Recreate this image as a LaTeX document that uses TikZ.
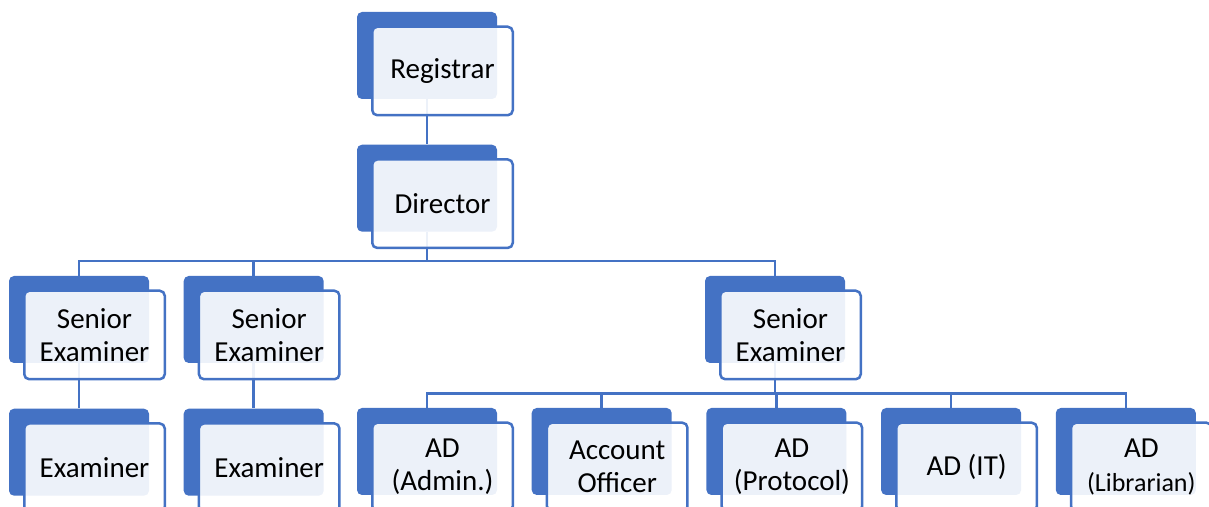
\documentclass[tikz,border=0pt]{standalone}
\usepackage{fontspec}
\setmainfont{Carlito}
\usetikzlibrary{positioning}
\definecolor{orgblue}{HTML}{4472C4}

\begin{document}
\begin{tikzpicture}[
    node distance=0.9cm and 0.68cm,
    back/.style={fill=orgblue, rounded corners=0.1cm, minimum width=2.8cm, minimum height=1.74cm, inner sep=0pt},
    front/.style={draw=orgblue, line width=0.05cm, fill=white, fill opacity=0.9, text opacity=1,
        rounded corners=0.1cm, minimum width=2.81cm, minimum height=1.77cm, inner sep=0pt,
        align=center, font=\fontsize{16.5}{18.8}\selectfont},
    link/.style={draw=orgblue, line width=0.05cm}
]
\useasboundingbox (0,0) rectangle (24.18,-10.14);

    % dark boxes
    \node[back] (reg) at (8.54,-1.11) {};
    \node[back, below=of reg] (dir) {};
    \node[back] (se1) at (1.58,-6.39) {};
    \node[back, right=of se1] (se2) {};
    \node[back] (se3) at (15.5,-6.39) {};
    \node[back, below=of se1] (ex1) {};
    \node[back, below=of se2] (ex2) {};
    \node[back] (adm) at (8.54,-9.03) {};
    \node[back, right=of adm] (acc) {};
    \node[back, right=of acc] (pro) {};
    \node[back, right=of pro] (it) {};
    \node[back, right=of it] (lib) {};

    % connectors
    \coordinate[below=0.58cm of dir.south] (split1);
    \coordinate[below=0.6cm of se3.south] (split2);
    \draw[link] (reg) -- (dir);
    \draw[link] (dir) -- (split1) -| (se1);
    \draw[link] (split1) -| (se2);
    \draw[link] (split1) -| (se3);
    \draw[link] (se1) -- (ex1);
    \draw[link] (se2) -- (ex2);
    \draw[link] (se3) -- (split2) -| (adm);
    \draw[link] (split2) -| (acc);
    \draw[link] (split2) -| (pro);
    \draw[link] (split2) -| (it);
    \draw[link] (split2) -| (lib);

    % light boxes with text
    \node[front] (reg-f) at ([shift={(0.31,-0.31)}]reg) {Registrar};
    \node[front] (dir-f) at ([shift={(0.31,-0.31)}]dir) {Director};
    \node[front] (se1-f) at ([shift={(0.31,-0.31)}]se1) {Senior\\Examiner};
    \node[front] (se2-f) at ([shift={(0.31,-0.31)}]se2) {Senior\\Examiner};
    \node[front] (se3-f) at ([shift={(0.31,-0.31)}]se3) {Senior\\Examiner};
    \node[front] (ex1-f) at ([shift={(0.31,-0.31)}]ex1) {Examiner};
    \node[front] (ex2-f) at ([shift={(0.31,-0.31)}]ex2) {Examiner};
    \node[front] (adm-f) at ([shift={(0.31,-0.31)}]adm) {AD\\(Admin.)};
    \node[front] (acc-f) at ([shift={(0.31,-0.31)}]acc) {Account\\Officer};
    \node[front] (pro-f) at ([shift={(0.31,-0.31)}]pro) {AD\\(Protocol)};
    \node[front] (it-f) at ([shift={(0.31,-0.31)}]it) {AD (IT)};
    \node[front] (lib-f) at ([shift={(0.31,-0.31)}]lib) {AD\\{\fontsize{14.8}{16}\selectfont (Librarian)}};

\end{tikzpicture}
\end{document}
